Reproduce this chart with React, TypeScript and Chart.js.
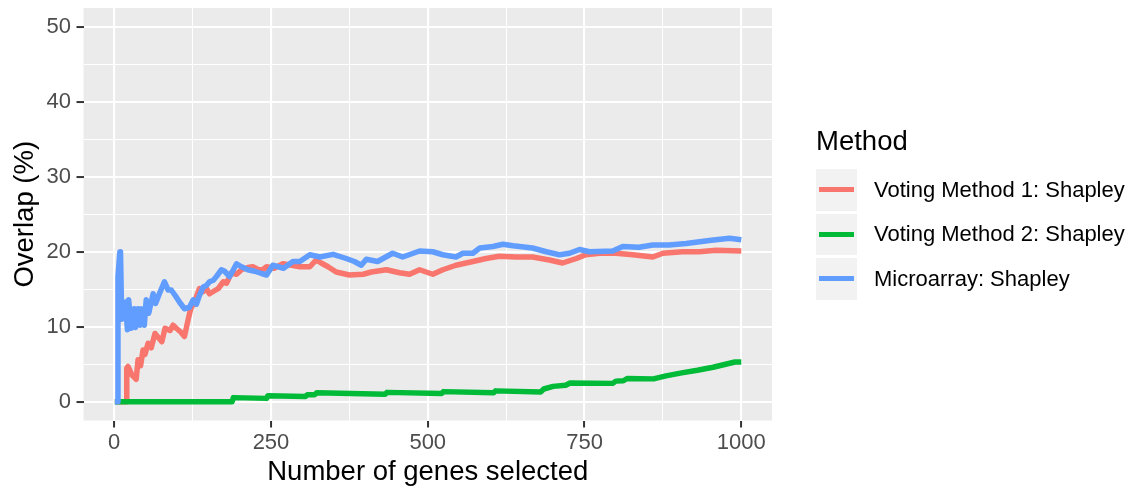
import React, { useEffect, useRef } from "react";
import { Chart, registerables } from "chart.js";

Chart.register(...registerables);

// ---- data ----
const seriesNames = ["Voting Method 1: Shapley", "Voting Method 2: Shapley", "Microarray: Shapley"];
const seriesColors = ["#F8766D", "#00BA38", "#619CFF"];

const voting1X = [1, 19, 20, 22, 28, 35, 38, 42, 46, 49, 54, 59, 65, 70, 76, 81, 89, 94, 99, 106, 112, 118, 122, 128, 136, 142, 147, 152, 158, 166, 174, 179, 187, 195, 203, 213, 221, 230, 237, 243, 255, 269, 283, 296, 312, 322, 330, 341, 354, 375, 397, 410, 434, 455, 471, 487, 508, 524, 545, 572, 593, 614, 641, 667, 694, 715, 737, 752, 774, 800, 827, 859, 875, 906, 933, 960, 1000];
const voting1Y = [0, 0, 4.5, 4.7, 3.6, 3.0, 5.6, 4.8, 6.9, 6.3, 7.8, 7.2, 9.1, 8.6, 8.0, 9.8, 9.5, 10.2, 9.8, 9.3, 8.7, 11, 12.4, 13.3, 15.1, 14.7, 15.1, 14.4, 14.7, 15.1, 16, 15.8, 17.2, 17, 17.6, 17.9, 18, 17.6, 17.6, 18, 17.8, 18.4, 18.2, 18, 18, 18.9, 18.5, 18, 17.3, 16.9, 17, 17.3, 17.6, 17.2, 17, 17.6, 17, 17.6, 18.2, 18.7, 19.1, 19.4, 19.3, 19.3, 18.9, 18.5, 19.1, 19.6, 19.8, 19.8, 19.6, 19.3, 19.8, 20, 20, 20.2, 20.1];

const voting2X = [1, 188, 190, 243, 245, 305, 308, 320, 323, 432, 435, 522, 525, 605, 608, 680, 685, 700, 720, 727, 795, 800, 812, 818, 860, 880, 905, 930, 955, 975, 990, 1000];
const voting2Y = [0, 0, 0.55, 0.45, 0.8, 0.7, 0.95, 0.95, 1.2, 1.0, 1.25, 1.1, 1.35, 1.2, 1.45, 1.3, 1.7, 2.05, 2.2, 2.5, 2.45, 2.75, 2.8, 3.1, 3.05, 3.45, 3.85, 4.2, 4.6, 5.0, 5.3, 5.3];

const microX = [1, 5, 6, 9, 10, 12, 15, 18, 21, 23, 27, 32, 34, 38, 41, 43, 48, 51, 55, 62, 66, 72, 80, 86, 91, 97, 104, 112, 120, 126, 131, 136, 142, 147, 152, 158, 163, 171, 176, 184, 190, 195, 203, 213, 224, 235, 243, 253, 270, 285, 296, 312, 328, 349, 370, 383, 394, 402, 420, 444, 460, 487, 508, 524, 545, 556, 572, 583, 604, 620, 636, 667, 689, 710, 726, 742, 758, 795, 811, 837, 859, 885, 912, 949, 981, 1000];
const microY = [0, 0, 16.7, 20, 20, 11, 12, 13.3, 9.6, 13.6, 9.8, 12.4, 9.9, 12.4, 10.2, 12.4, 10.2, 13.6, 11.8, 14.4, 13.1, 14.4, 16, 14.9, 14.9, 14.2, 13.3, 12.4, 12.6, 13.6, 13, 14.2, 15.3, 15.5, 16, 16.2, 16.7, 17.6, 17.4, 16.7, 17.6, 18.4, 18, 17.6, 17.4, 17.1, 16.9, 18.2, 17.8, 18.7, 18.7, 19.6, 19.3, 19.65, 19.1, 18.7, 18.2, 19.0, 18.7, 19.8, 19.3, 20.1, 20, 19.6, 19.3, 19.8, 19.8, 20.5, 20.7, 21, 20.8, 20.5, 20, 19.6, 19.8, 20.3, 20, 20.1, 20.7, 20.6, 20.9, 20.9, 21.1, 21.5, 21.8, 21.6];

const xMajor = [0, 250, 500, 750, 1000];
const xMinor = [125, 375, 625, 875];
const yMajor = [0, 10, 20, 30, 40, 50];
const yMinor = [5, 15, 25, 35, 45];

const xTitle = "Number of genes selected";
const yTitle = "Overlap (%)";
const legendTitle = "Method";

const FONT = "'Liberation Sans', Arial, Helvetica, sans-serif";

const toPoints = (xs: number[], ys: number[]) => xs.map((x, i) => ({ x, y: ys[i] }));

const panelBg = {
  id: "panelBg",
  beforeDraw(chart: any) {
    const { ctx, chartArea } = chart;
    ctx.save();
    ctx.fillStyle = "#EBEBEB";
    ctx.fillRect(chartArea.left, chartArea.top, chartArea.right - chartArea.left, chartArea.bottom - chartArea.top);
    ctx.restore();
  },
};

export default function App() {
  const ref = useRef<HTMLCanvasElement | null>(null);

  useEffect(() => {
    if (!ref.current) return;
    const seriesX = [voting1X, voting2X, microX];
    const seriesY = [voting1Y, voting2Y, microY];
    const orders = [3, 2, 1];
    const datasets = seriesNames.map((name, i) => ({
      label: name,
      data: toPoints(seriesX[i], seriesY[i]),
      borderColor: seriesColors[i],
      backgroundColor: seriesColors[i],
      borderWidth: 5.5,
      pointRadius: 0,
      tension: 0,
      borderJoinStyle: "round" as const,
      order: orders[i],
    }));

    const isMajorX = (v: number) => xMajor.includes(v);
    const isMajorY = (v: number) => yMajor.includes(v);

    const chart = new Chart(ref.current, {
      type: "line",
      data: { datasets },
      plugins: [panelBg],
      options: {
        animation: false,
        responsive: false,
        maintainAspectRatio: false,
        layout: { padding: { top: 8, right: 366, bottom: 0, left: 0 } },
        plugins: { legend: { display: false }, tooltip: { enabled: false } },
        scales: {
          x: {
            type: "linear",
            min: -49,
            max: 1049,
            afterBuildTicks: (scale: any) => {
              scale.ticks = [...xMajor, ...xMinor].sort((a, b) => a - b).map((v) => ({ value: v }));
            },
            afterFit: (scale: any) => {
              scale.height = 68.5;
              scale.paddingLeft = 0;
              scale.paddingRight = 0;
            },
            border: { display: false },
            grid: {
              color: "#FFFFFF",
              lineWidth: (c: any) => (c.tick && isMajorX(c.tick.value) ? 2.1 : 1.05),
              drawTicks: true,
              tickLength: 7,
              tickColor: (c: any) => (c.tick && isMajorX(c.tick.value) ? "#333333" : "rgba(0,0,0,0)"),
              tickWidth: 2,
            },
            ticks: {
              autoSkip: false,
              maxRotation: 0,
              padding: 2,
              color: "#4D4D4D",
              font: { family: FONT, size: 22 },
              callback: (v: any) => (isMajorX(Number(v)) ? String(v) : ""),
            },
            title: {
              display: true,
              text: xTitle,
              color: "#000000",
              font: { family: FONT, size: 27.5, lineHeight: 1 },
              padding: { top: 0, bottom: 3.3 },
            },
          },
          y: {
            type: "linear",
            min: -2.5,
            max: 52.5,
            afterBuildTicks: (scale: any) => {
              scale.ticks = [...yMajor, ...yMinor].sort((a, b) => a - b).map((v) => ({ value: v }));
            },
            afterFit: (scale: any) => {
              scale.width = 83.5;
              scale.paddingTop = 0;
              scale.paddingBottom = 0;
            },
            border: { display: false },
            grid: {
              color: "#FFFFFF",
              lineWidth: (c: any) => (c.tick && isMajorY(c.tick.value) ? 2.1 : 1.05),
              drawTicks: true,
              tickLength: 7,
              tickColor: (c: any) => (c.tick && isMajorY(c.tick.value) ? "#333333" : "rgba(0,0,0,0)"),
              tickWidth: 2,
            },
            ticks: {
              autoSkip: false,
              padding: 5.5,
              color: "#4D4D4D",
              font: { family: FONT, size: 22 },
              callback: (v: any) => (isMajorY(Number(v)) ? String(v) : ""),
            },
            title: {
              display: true,
              text: yTitle,
              color: "#000000",
              font: { family: FONT, size: 27.5, lineHeight: 1 },
              padding: { top: 11.6, bottom: 0 },
            },
          },
        },
      },
    });
    return () => chart.destroy();
  }, []);

  const rowTop = 169.3;
  const rowPitch = 44.5;
  const box = 41.4;

  return (
    <div style={{ position: "absolute", left: 0, top: 0, width: 1138, height: 489, background: "#FFFFFF", fontFamily: FONT }}>
      <canvas ref={ref} width={1138} height={489} style={{ position: "absolute", left: 0, top: 0, width: 1138, height: 489 }} />
      <div style={{ position: "absolute", left: 816, top: 127.4, fontSize: 27.5, lineHeight: "27.5px", color: "#000", whiteSpace: "nowrap" }}>
        {legendTitle}
      </div>
      {seriesNames.map((name, i) => (
        <React.Fragment key={name}>
          <div style={{ position: "absolute", left: 816, top: rowTop + i * rowPitch, width: box, height: box, background: "#F2F2F2" }}>
            <div style={{ position: "absolute", left: 3.3, right: 3.3, top: box / 2 - 2.5, height: 5, background: seriesColors[i] }} />
          </div>
          <div style={{ position: "absolute", left: 874, top: rowTop + i * rowPitch, height: box, display: "flex", alignItems: "center", fontSize: 22, lineHeight: "22px", color: "#000", whiteSpace: "nowrap" }}>
            {name}
          </div>
        </React.Fragment>
      ))}
    </div>
  );
}
